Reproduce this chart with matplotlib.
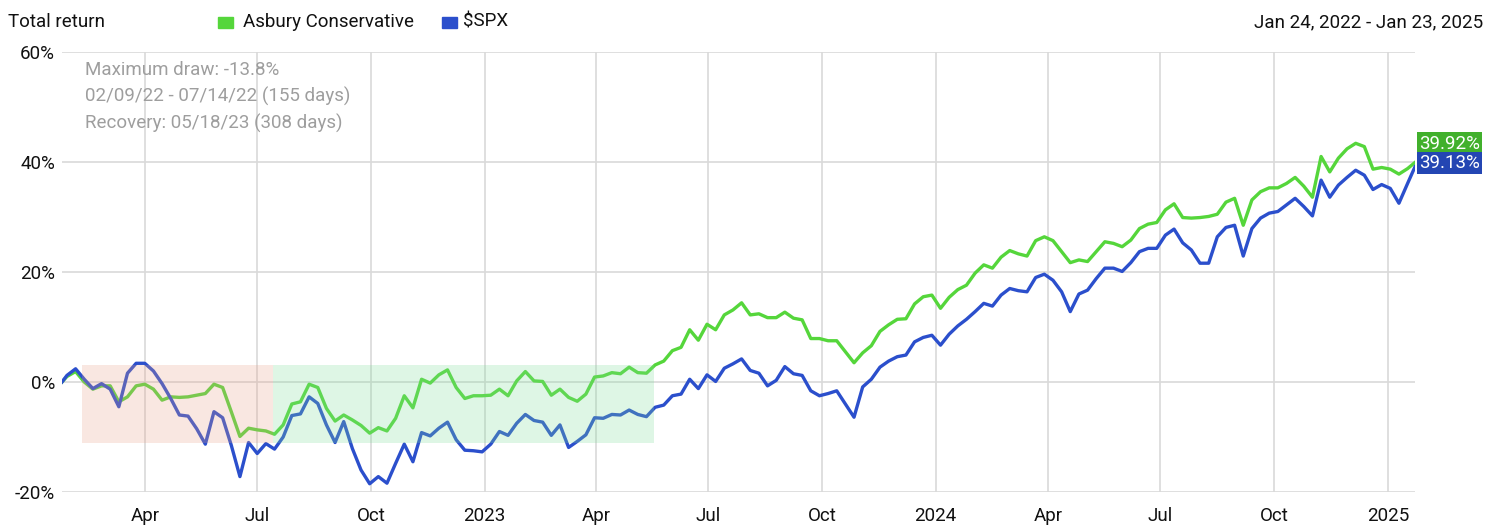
import pandas as pd
import numpy as np
import matplotlib
matplotlib.use('Agg')
import matplotlib.pyplot as plt
import matplotlib.dates as mdates
from matplotlib.ticker import FuncFormatter
from matplotlib.patches import Rectangle

plt.rcParams['font.family'] = ['Roboto', 'DejaVu Sans']

# weekly points (Fridays) plus the first and last day of the range
dates = ([pd.Timestamp('2022-01-24')]
         + list(pd.date_range('2022-01-28', '2025-01-17', freq='W-FRI'))
         + [pd.Timestamp('2025-01-23')])

asbury = [0.0,
          1.0, 1.9, 0.0, -1.3, -0.7, -0.7, -3.6, -2.7, -0.7, -0.4, -1.3, -3.3, -2.7,
          -2.8, -2.7, -2.4, -2.1, -0.4, -1.0, -5.4, -9.9, -8.4, -8.7, -8.9, -9.5, -7.8,
          -4.0, -3.6, -0.4, -1.0, -4.8, -7.1, -6.0, -6.9, -7.9, -9.3, -8.3, -8.9, -6.6,
          -2.5, -4.7, 0.5, -0.2, 1.3, 2.2, -1.0, -3.0, -2.5, -2.5, -2.4, -1.3, -2.5,
          0.2, 1.9, 0.2, 0.1, -2.4, -1.3, -2.8, -3.5, -2.2, 0.9, 1.1, 1.7, 1.5,
          2.7, 1.7, 1.6, 3.1, 3.8, 5.7, 6.3, 9.5, 7.6, 10.5, 9.5, 12.2, 13.1,
          14.4, 12.2, 12.4, 11.7, 11.7, 12.7, 11.6, 11.3, 7.9, 7.9, 7.5, 7.5, 5.5,
          3.5, 5.3, 6.6, 9.2, 10.4, 11.4, 11.5, 14.2, 15.5, 15.8, 13.4, 15.4, 16.8,
          17.6, 19.8, 21.3, 20.7, 22.7, 23.9, 23.3, 22.9, 25.7, 26.4, 25.7, 23.7, 21.7,
          22.2, 21.9, 23.7, 25.5, 25.2, 24.6, 25.8, 27.9, 28.7, 29.0, 31.3, 32.4, 29.9,
          29.8, 29.9, 30.1, 30.5, 32.7, 33.4, 28.5, 33.1, 34.6, 35.3, 35.3, 36.1, 37.2,
          35.6, 33.6, 41.0, 38.2, 40.7, 42.4, 43.4, 42.8, 38.7, 39.0, 38.7, 37.8, 38.8,
          39.92]

spx = [0.0,
       1.2, 2.4, 0.5, -1.2, -0.3, -1.3, -4.5, 1.6, 3.4, 3.4, 2.0, -0.3, -3.0,
       -6.0, -6.2, -8.5, -11.3, -5.4, -6.5, -11.5, -17.2, -11.0, -13.0, -11.2, -12.2, -10.0,
       -6.1, -5.8, -2.7, -3.9, -7.8, -11.0, -7.2, -12.1, -16.0, -18.5, -17.2, -18.4, -14.8,
       -11.3, -14.5, -9.2, -9.8, -8.4, -7.3, -10.5, -12.4, -12.5, -12.7, -11.3, -9.0, -9.7,
       -7.5, -5.9, -7.0, -7.3, -9.7, -7.8, -11.9, -10.8, -9.6, -6.5, -6.6, -5.9, -6.0,
       -5.1, -5.9, -6.3, -4.6, -4.2, -2.5, -2.2, 0.5, -1.2, 1.3, 0.1, 2.5, 3.3,
       4.2, 2.1, 1.6, -0.7, 0.3, 2.8, 1.5, 1.2, -1.6, -2.5, -2.1, -1.6, -4.0,
       -6.4, -0.9, 0.5, 2.7, 3.8, 4.6, 4.9, 7.3, 8.1, 8.5, 6.7, 8.7, 10.2,
       11.4, 12.8, 14.3, 13.8, 15.8, 17.0, 16.6, 16.4, 19.0, 19.6, 18.5, 16.4, 12.8,
       16.0, 16.7, 18.8, 20.7, 20.7, 20.1, 21.7, 23.7, 24.3, 24.3, 26.7, 27.8, 25.3,
       24.0, 21.6, 21.6, 26.4, 28.1, 28.5, 22.9, 27.9, 29.8, 30.7, 31.0, 32.2, 33.4,
       31.9, 30.2, 36.7, 33.6, 35.8, 37.2, 38.5, 37.6, 35.0, 35.9, 35.2, 32.5, 36.1,
       39.13]

# drawdown / recovery periods
draw_start, draw_end, recovery = '2022-02-09', '2022-07-14', '2023-05-18'
band_low, band_high = -11.0, 3.1

green = '#55d63b'
blue = '#2b4fcc'
green_box = '#41b02c'
blue_box = '#2446b3'
grid_c = '#d9d9d9'
fs = 13.5

fig = plt.figure(figsize=(14.91, 5.25), dpi=100)
ax = fig.add_axes([62/1491, 33/525, 1353/1491, 440/525])

ax.plot(dates, asbury, color=green, lw=2.4, solid_joinstyle='round', zorder=3)
ax.plot(dates, spx, color=blue, lw=2.4, solid_joinstyle='round', zorder=3)

# shaded periods drawn over the lines
d0, d1, d2 = mdates.date2num(pd.to_datetime([draw_start, draw_end, recovery]))
ax.add_patch(Rectangle((d0, band_low), d1 - d0, band_high - band_low,
                       color='#e8a088', alpha=0.25, lw=0, zorder=4))
ax.add_patch(Rectangle((d1, band_low), d2 - d1, band_high - band_low,
                       color='#7fdc9a', alpha=0.25, lw=0, zorder=4))

ax.set_xlim(dates[0], dates[-1])
ax.set_ylim(-20, 60)
ax.set_yticks([-20, 0, 20, 40, 60])
ax.yaxis.set_major_formatter(FuncFormatter(lambda v, p: f'{v:.0f}%'))

ax.xaxis.set_major_locator(mdates.MonthLocator(bymonth=[1, 4, 7, 10]))
ax.xaxis.set_major_formatter(FuncFormatter(
    lambda v, p: str(mdates.num2date(v).year) if mdates.num2date(v).month == 1
    else mdates.num2date(v).strftime('%b')))

ax.grid(True, color=grid_c, lw=1.2, zorder=1)
ax.set_axisbelow(True)
for s in ax.spines.values():
    s.set_visible(False)
ax.tick_params(axis='both', length=0, labelsize=fs, colors='#111111')
ax.tick_params(axis='y', pad=5)
ax.tick_params(axis='x', pad=11)

# drawdown text
notes = ['Maximum draw: -13.8%', '02/09/22 - 07/14/22 (155 days)', 'Recovery: 05/18/23 (308 days)']
for i, t in enumerate(notes):
    fig.text(85/1491, 1 - (70 + i * 26.5)/525, t, color='#9e9e9e', fontsize=fs, va='center')

# end value labels
ax.text(1.003, 41.7, f'{asbury[-1]:.2f}%', transform=ax.get_yaxis_transform(),
        color='white', fontsize=fs, va='bottom', ha='left',
        bbox=dict(boxstyle='square,pad=0.12', fc=green_box, ec='none'))
ax.text(1.003, 41.5, f'{spx[-1]:.2f}%', transform=ax.get_yaxis_transform(),
        color='white', fontsize=fs, va='top', ha='left',
        bbox=dict(boxstyle='square,pad=0.12', fc=blue_box, ec='none'))

# header
fig.text(8/1491, 1 - 22/525, 'Total return', fontsize=fs, va='center', color='#111111')
fig.text(1483/1491, 1 - 22/525, 'Jan 24, 2022 - Jan 23, 2025', fontsize=fs, va='center',
         ha='right', color='#111111')
fig.patches.append(Rectangle((218/1491, 1 - 28/525), 15/1491, 11/525,
                             transform=fig.transFigure, color=green, figure=fig))
fig.text(243/1491, 1 - 22/525, 'Asbury Conservative', fontsize=fs, va='center', color='#111111')
fig.patches.append(Rectangle((442/1491, 1 - 28/525), 15/1491, 11/525,
                             transform=fig.transFigure, color=blue, figure=fig))
fig.text(463/1491, 1 - 22/525, '$SPX', fontsize=fs, va='center', color='#111111')

plt.savefig('out.png', dpi=100)
plt.close()
